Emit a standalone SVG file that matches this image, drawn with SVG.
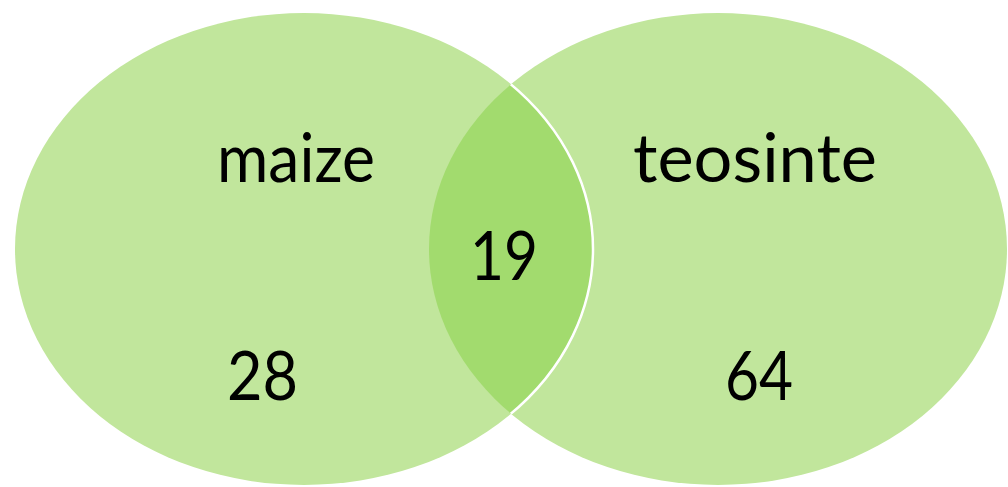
<svg xmlns="http://www.w3.org/2000/svg" width="1008" height="487" viewBox="0 0 1008 487">
  <style>
    .set { fill: #C1E69C; }
    .lens { fill: #A2DB6E; }
    .lbl { font-family: "Lato", "Open Sans", "Liberation Sans", sans-serif; font-size: 68px; fill: #000000; }
  </style>
  <defs>
    <clipPath id="clipLeft">
      <ellipse cx="304" cy="249" rx="289" ry="236"/>
    </clipPath>
    <clipPath id="clipRight">
      <ellipse cx="718" cy="249" rx="289" ry="236"/>
    </clipPath>
  </defs>
  <rect x="0" y="0" width="1008" height="487" fill="#ffffff"/>
  <g id="set-maize">
    <ellipse class="set" cx="304" cy="249" rx="289" ry="236"/>
  </g>
  <g id="set-teosinte">
    <ellipse class="set" cx="718" cy="249" rx="289" ry="236"/>
  </g>
  <g id="overlap">
    <ellipse class="lens" cx="718" cy="249" rx="289" ry="236" clip-path="url(#clipLeft)"/>
    <ellipse cx="304" cy="249" rx="289" ry="236" fill="none" stroke="#ffffff" stroke-width="2.5" clip-path="url(#clipRight)"/>
  </g>
  <g id="labels">
    <text class="lbl" x="217" y="182" textLength="158" lengthAdjust="spacingAndGlyphs">maize</text>
    <text class="lbl" x="633" y="182" textLength="244" lengthAdjust="spacingAndGlyphs">teosinte</text>
    <text class="lbl" x="470" y="280" textLength="68" lengthAdjust="spacingAndGlyphs">19</text>
    <text class="lbl" x="227" y="400" textLength="71" lengthAdjust="spacingAndGlyphs">28</text>
    <text class="lbl" x="725" y="400" textLength="68" lengthAdjust="spacingAndGlyphs">64</text>
  </g>
</svg>
